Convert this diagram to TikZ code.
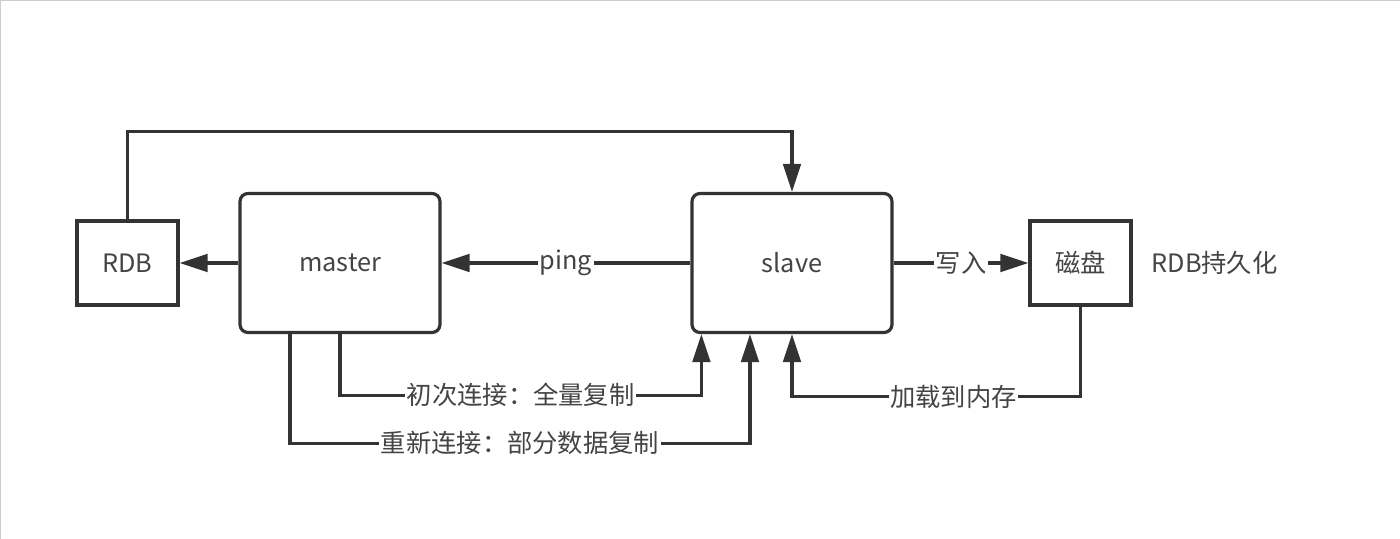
\documentclass[tikz,border=0pt]{standalone}
\usepackage{fontspec}
\setmainfont{Noto Sans CJK SC}
\usetikzlibrary{positioning,arrows.meta,calc}
\definecolor{ink}{HTML}{333333}
\definecolor{txt}{HTML}{444444}
\definecolor{frame}{HTML}{CCCCCC}
\tikzset{
  box/.style  ={draw=ink, line width=0.8mm, minimum width=25.25mm,
                minimum height=21mm, font=\fontsize{18}{20}\selectfont, text=txt},
  big/.style  ={box, rounded corners=2mm, minimum width=50mm, minimum height=34.75mm},
  fl/.style   ={-{Triangle[length=7mm,width=4.4mm]}, line width=0.8mm, draw=ink},
  lbl/.style  ={fill=white, inner sep=1pt, font=\fontsize{18}{20}\selectfont, text=txt},
  edge/.style ={draw=frame, line width=0.6mm},
}

\begin{document}
\begin{tikzpicture}
  \useasboundingbox (0,0) rectangle (350mm,-134.75mm);
  % screenshot frame
  \draw[edge] (0,0) -- (350mm,0);
  \draw[edge] (0,0) -- (0,-134.75mm);

  \node[box] (rdb) at (31.875mm,-65.75mm) {RDB};
  \node[big, right=14.7mm of rdb]   (master) {master};
  \node[big, right=62.2mm of master] (slave) {slave};
  \node[box, right=33.7mm of slave] (disk)   {磁盘};
  \node[right=3.5mm of disk, font=\fontsize{18}{20}\selectfont, text=txt] (persist) {RDB持久化};

  % rdb snapshot goes over the top to the slave
  \coordinate[above=22mm of rdb.north] (top);
  \draw[fl] (rdb.north) -- (top) -| (slave.north);

  \draw[fl] (master) -- (rdb);
  \draw[fl] (slave) -- node[lbl]{ping} (master);
  \draw[fl] (slave) -- node[lbl]{写入} (disk);

  % replication paths under the boxes
  \coordinate (in1)  at ($(slave.south west)+(2.75mm,0)$);
  \coordinate (out2) at ($(master.south)+(-12.5mm,0)$);
  \coordinate (in2)  at ($(slave.south)+(-10.5mm,0)$);
  \draw[fl] (master.south) -- ++(0,-15.25mm)
            -| node[lbl, pos=0.25]{初次连接：全量复制} (in1);
  \draw[fl] (out2) -- ++(0,-27.25mm)
            -| node[lbl, pos=0.25]{重新连接：部分数据复制} (in2);
  \draw[fl] (disk.south) -- ++(0,-22.5mm)
            -| node[lbl, pos=0.22]{加载到内存} (slave.south);
\end{tikzpicture}
\end{document}
